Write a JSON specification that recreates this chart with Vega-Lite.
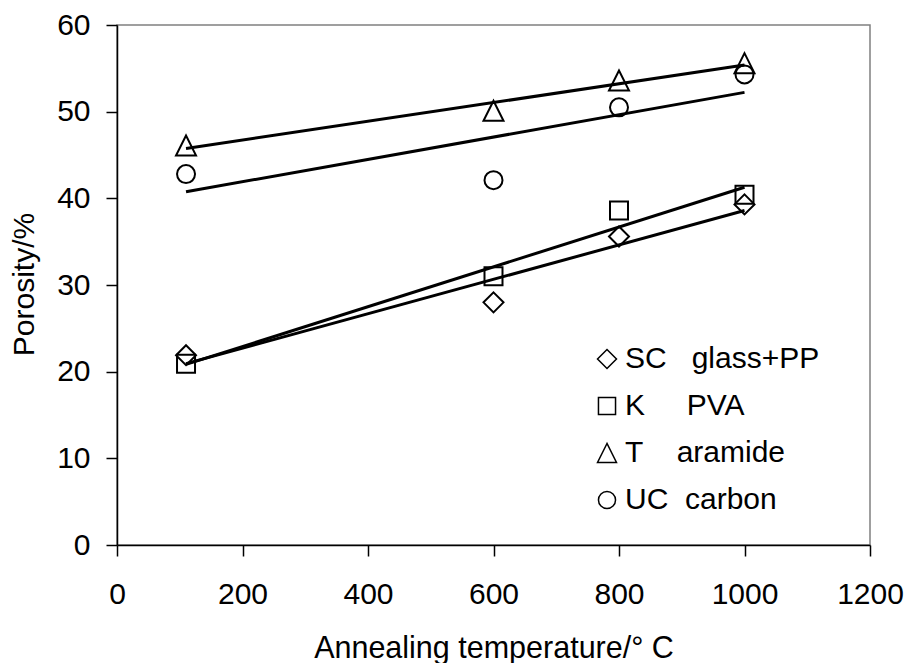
{
  "$schema": "https://vega.github.io/schema/vega-lite/v6.json",
  "width": 753,
  "height": 520,
  "autosize": {"type": "none"},
  "padding": {"left": 117, "top": 25, "right": 36, "bottom": 118},
  "background": "white",
  "config": {
    "view": {"stroke": "#808080", "strokeWidth": 1.5},
    "font": "Liberation Sans"
  },
  "data": {
    "values": [
      {"series": "SC\u00a0\u00a0\u00a0glass+PP", "temp": 110, "porosity": 21.9},
      {"series": "SC\u00a0\u00a0\u00a0glass+PP", "temp": 600, "porosity": 28.0},
      {"series": "SC\u00a0\u00a0\u00a0glass+PP", "temp": 800, "porosity": 35.6},
      {"series": "SC\u00a0\u00a0\u00a0glass+PP", "temp": 1000, "porosity": 39.3},
      {"series": "K\u00a0\u00a0\u00a0\u00a0\u00a0PVA", "temp": 110, "porosity": 20.9},
      {"series": "K\u00a0\u00a0\u00a0\u00a0\u00a0PVA", "temp": 600, "porosity": 31.0},
      {"series": "K\u00a0\u00a0\u00a0\u00a0\u00a0PVA", "temp": 800, "porosity": 38.6},
      {"series": "K\u00a0\u00a0\u00a0\u00a0\u00a0PVA", "temp": 1000, "porosity": 40.4},
      {"series": "T\u00a0\u00a0\u00a0\u00a0aramide", "temp": 110, "porosity": 46.1},
      {"series": "T\u00a0\u00a0\u00a0\u00a0aramide", "temp": 600, "porosity": 50.1},
      {"series": "T\u00a0\u00a0\u00a0\u00a0aramide", "temp": 800, "porosity": 53.6},
      {"series": "T\u00a0\u00a0\u00a0\u00a0aramide", "temp": 1000, "porosity": 55.6},
      {"series": "UC\u00a0\u00a0carbon", "temp": 110, "porosity": 42.8},
      {"series": "UC\u00a0\u00a0carbon", "temp": 600, "porosity": 42.1},
      {"series": "UC\u00a0\u00a0carbon", "temp": 800, "porosity": 50.5},
      {"series": "UC\u00a0\u00a0carbon", "temp": 1000, "porosity": 54.3}
    ]
  },
  "layer": [
    {
      "mark": {"type": "point", "filled": false, "color": "black", "strokeWidth": 2, "size": 400, "opacity": 1},
      "encoding": {
        "x": {
          "field": "temp", "type": "quantitative",
          "scale": {"domain": [0, 1200], "nice": false, "zero": false},
          "axis": {
            "values": [0, 200, 400, 600, 800, 1000, 1200], "format": "d",
            "grid": false, "tickSize": 11, "tickColor": "black", "tickWidth": 1.5,
            "domainColor": "black", "domainWidth": 1.5,
            "labelFontSize": 30, "labelColor": "black", "labelBaseline": "alphabetic", "labelPadding": 47,
            "labelFlush": false, "labelOverlap": false,
            "title": "Annealing temperature/\u00b0 C", "titleFontSize": 30.5, "titleFontWeight": "normal",
            "titleColor": "black", "titleX": 376.5, "titleY": 112, "titleBaseline": "alphabetic"
          }
        },
        "y": {
          "field": "porosity", "type": "quantitative",
          "scale": {"domain": [0, 60], "nice": false},
          "axis": {
            "values": [0, 10, 20, 30, 40, 50, 60],
            "grid": false, "tickSize": 11, "tickColor": "black", "tickWidth": 1.5,
            "domainColor": "black", "domainWidth": 1.5,
            "labelFontSize": 30, "labelColor": "black", "labelPadding": 16,
            "labelFlush": false, "labelOverlap": false,
            "title": "Porosity/%", "titleFontSize": 30, "titleFontWeight": "normal",
            "titleColor": "black", "titleX": -84, "titleY": 259, "titleBaseline": "alphabetic"
          }
        },
        "shape": {
          "field": "series", "type": "nominal",
          "scale": {
            "domain": ["SC\u00a0\u00a0\u00a0glass+PP", "K\u00a0\u00a0\u00a0\u00a0\u00a0PVA", "T\u00a0\u00a0\u00a0\u00a0aramide", "UC\u00a0\u00a0carbon"],
            "range": [
              "M0,-1L1,0L0,1L-1,0Z",
              "M-0.9,-0.9H0.9V0.9H-0.9Z",
              "M0,-1L-1,1L1,1Z",
              "M-0.9,0A0.9,0.9,0,1,1,0.9,0A0.9,0.9,0,1,1,-0.9,0Z"
            ]
          },
          "legend": {
            "orient": "none", "legendX": 475, "legendY": 319, "title": null,
            "labelFontSize": 30, "labelFont": "Liberation Sans", "labelColor": "black", "labelLimit": 0,
            "symbolSize": 360, "symbolStrokeWidth": 1.5, "symbolStrokeColor": "black",
            "symbolFillColor": "transparent", "rowPadding": 17, "labelOffset": 3, "padding": 0
          }
        }
      }
    },
    {
      "transform": [{"regression": "porosity", "on": "temp", "groupby": ["series"]}],
      "mark": {"type": "line", "color": "black", "strokeWidth": 3},
      "encoding": {
        "x": {"field": "temp", "type": "quantitative"},
        "y": {"field": "porosity", "type": "quantitative"},
        "detail": {"field": "series", "type": "nominal"}
      }
    }
  ]
}
